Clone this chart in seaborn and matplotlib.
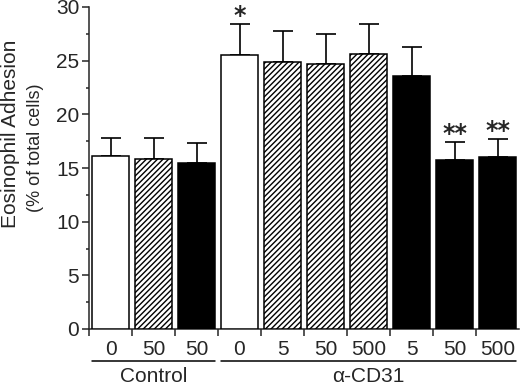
import numpy as np
import pandas as pd
import matplotlib
matplotlib.use("Agg")
import matplotlib.pyplot as plt
import matplotlib.transforms as mtransforms
from matplotlib.ticker import MultipleLocator, FixedLocator
import seaborn as sns

# ---- data ----
conditions = ["c0", "c50h", "c50b", "a0", "a5h", "a50h", "a500h", "a5b", "a50b", "a500b"]
tick_labels = ["0", "50", "50", "0", "5", "50", "500", "5", "50", "500"]
means = [16.1, 15.8, 15.5, 25.5, 24.9, 24.7, 25.6, 23.6, 15.7, 16.0]
sems = [1.7, 2.0, 1.8, 2.9, 2.9, 2.8, 2.8, 2.7, 1.7, 1.7]
fills = ["white", "hatch", "black", "white", "hatch", "hatch", "hatch", "black", "black", "black"]
groups = ["Control", "α-CD31"]
group_sizes = [3, 7]
stars = ["", "", "", "*", "", "", "", "", "**", "**"]

sns.set_style("ticks")
plt.rcParams["font.family"] = ["Liberation Sans", "DejaVu Sans"]
plt.rcParams["hatch.linewidth"] = 1.0

df = pd.DataFrame({"cond": conditions, "mean": means})

fig = plt.figure(figsize=(5.2, 3.87), dpi=100)
ax = fig.add_axes([89 / 520, 1 - 329 / 387, 430 / 520, 322 / 387])

sns.barplot(data=df, x="cond", y="mean", order=conditions, color="white",
            width=0.88, edgecolor="black", linewidth=1.1, ax=ax, zorder=3,
            errorbar=None)

for patch, f in zip(ax.patches, fills):
    if f == "black":
        patch.set_facecolor("black")
    elif f == "hatch":
        patch.set_facecolor("white")
        patch.set_hatch("//////")
    else:
        patch.set_facecolor("white")

x = np.arange(len(conditions))
ax.errorbar(x, means, yerr=[np.zeros(len(sems)), sems], fmt="none",
            ecolor="black", elinewidth=1.2, capsize=7, capthick=1.2, zorder=2)

for xi, m, s, st in zip(x, means, sems, stars):
    if st:
        ax.text(xi, m + s - 0.35, st, ha="center", va="bottom",
                fontsize=17, fontweight="bold", family="DejaVu Sans")

ax.set_xlim(-0.5, 9.5)
ax.set_ylim(0, 30)
ax.yaxis.set_major_locator(MultipleLocator(5))
ax.yaxis.set_minor_locator(MultipleLocator(2.5))
ax.tick_params(axis="y", which="major", length=5, width=1.1, labelsize=15, pad=2)
ax.tick_params(axis="y", which="minor", length=2.5, width=1.1)

ax.set_xticks(x)
ax.set_xticklabels(tick_labels)
ax.tick_params(axis="x", which="major", length=0, labelsize=15, pad=8)
ax.xaxis.set_minor_locator(FixedLocator(np.arange(-0.5, 9.0, 1.0)))
ax.tick_params(axis="x", which="minor", length=5, width=1.1)

ax.set_xlabel("")
ax.set_ylabel("")
for sp in ["top", "right"]:
    ax.spines[sp].set_visible(False)
for sp in ["left", "bottom"]:
    ax.spines[sp].set_linewidth(1.1)

trans = mtransforms.blended_transform_factory(ax.transData, ax.transAxes)
start = 0
for g, n in zip(groups, group_sizes):
    x0 = start - 0.44
    x1 = start + n - 1 + 0.44
    ax.plot([x0, x1], [-0.099, -0.099], color="black", lw=1.1,
            transform=trans, clip_on=False)
    ax.text((x0 + x1) / 2, -0.147, g, ha="center", va="center",
            fontsize=15, transform=trans)
    start += n

fig.text(11 / 520, 1 - 134 / 387, "Eosinophil Adhesion", rotation=90,
         ha="center", va="center", fontsize=15)
fig.text(36 / 520, 1 - 148 / 387, "(% of total cells)", rotation=90,
         ha="center", va="center", fontsize=13)

fig.savefig("out.png", dpi=100)
